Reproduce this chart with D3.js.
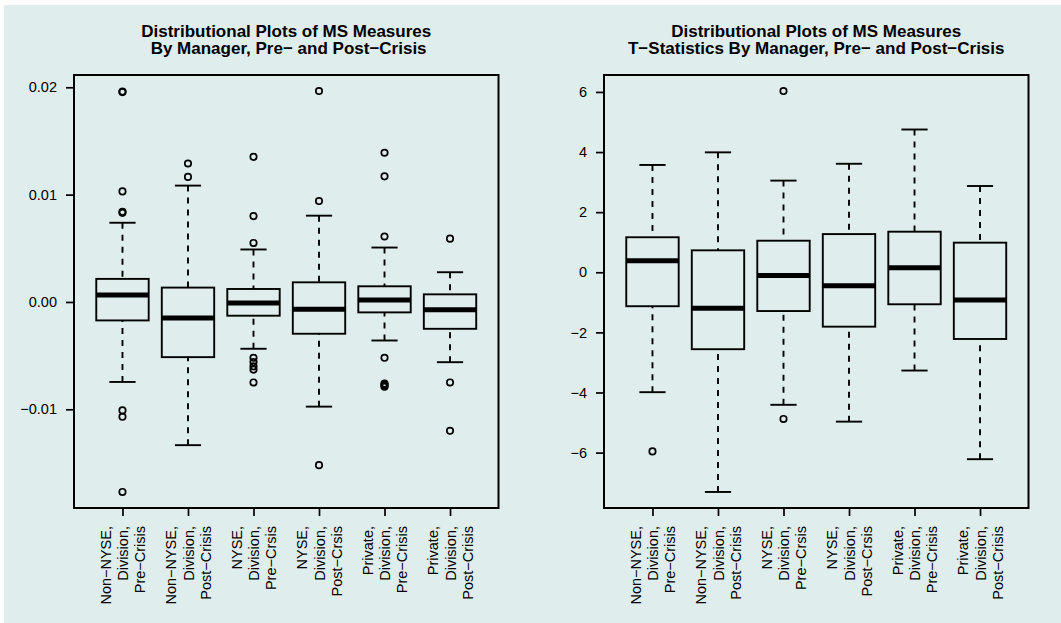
<!DOCTYPE html>
<html>
<head>
<meta charset="utf-8">
<script src="https://cdn.jsdelivr.net/npm/d3@7"></script>
<style>
  body { margin: 0; background: #fff; }
  svg { display: block; }
  text { font-family: "Liberation Sans", Arial, Helvetica, sans-serif; fill: #000; }
</style>
</head>
<body>
<svg id="chart" width="1061" height="623"></svg>
<script>
// box labels (same for both panels)
const categories = [
  ["Non\u2212NYSE,", "Division,", "Pre\u2212Crisis"],
  ["Non\u2212NYSE,", "Division,", "Post\u2212Crisis"],
  ["NYSE,", "Division,", "Pre\u2212Crsis"],
  ["NYSE,", "Division,", "Post\u2212Crsis"],
  ["Private,", "Division,", "Pre\u2212Crisis"],
  ["Private,", "Division,", "Post\u2212Crisis"]
];

// left panel: MS measures
const msLow  = [-0.00745, -0.01334, -0.00436, -0.00975, -0.00359, -0.00561];
const msQ1   = [-0.00172, -0.00514, -0.00128, -0.00296, -0.00097, -0.00250];
const msMed  = [ 0.00065, -0.00150, -0.00010, -0.00069,  0.00019, -0.00072];
const msQ3   = [ 0.00215,  0.00134,  0.00121,  0.00183,  0.00146,  0.00071];
const msHigh = [ 0.00738,  0.01084,  0.00489,  0.00804,  0.00507,  0.00277];
const msOut  = [
  [0.0196, 0.01955, 0.0103, 0.0084, 0.0083, -0.0101, -0.0107, -0.0177],
  [0.0129, 0.01165],
  [0.01352, 0.0080, 0.0055, -0.0052, -0.0056, -0.0060, -0.0063, -0.0075],
  [0.01965, 0.0094, -0.0152],
  [0.0139, 0.0117, 0.0061, -0.0052, -0.0076, -0.0077, -0.0078, -0.0079],
  [0.0059, -0.0075, -0.0120]
];
const msTicks = [-0.01, 0, 0.01, 0.02];
const msTitle = ["Distributional Plots of MS Measures", " By Manager, Pre\u2212 and Post\u2212Crisis"];

// right panel: t-statistics
const tLow  = [-3.99, -7.31, -4.41, -4.97, -3.27, -6.22];
const tQ1   = [-1.13, -2.56, -1.29, -1.81, -1.065, -2.22];
const tMed  = [ 0.386, -1.20, -0.11, -0.45, 0.153, -0.92];
const tQ3   = [ 1.165, 0.73, 1.05, 1.27, 1.35, 0.985];
const tHigh = [ 3.57, 3.99, 3.05, 3.61, 4.75, 2.87];
const tOut  = [[-5.96], [], [6.03, -4.88], [], [], []];
const tTicks = [-6, -4, -2, 0, 2, 4, 6];
const tTitle = ["Distributional Plots of MS Measures", "T\u2212Statistics By Manager, Pre\u2212 and Post\u2212Crisis"];

const W = 1061, H = 623;
const svg = d3.select("#chart");

svg.append("rect")
  .attr("x", 4).attr("y", 5)
  .attr("width", W - 4).attr("height", H - 5)
  .attr("fill", "#dfedec");

const minus = s => s.replace("-", "\u2212");

function drawPanel(ox, title, low, q1, med, q3, high, outs, ticks, fmt) {
  const left = ox + 74, right = ox + 498.5, top = 75, bottom = 508;
  const g = svg.append("g");

  const x = d3.scaleLinear().domain([0.26, 6.74]).range([left, right]);
  const [mn, mx] = d3.extent(low.concat(high, outs.flat()));
  const pad = (mx - mn) * 0.04;
  const y = d3.scaleLinear().domain([mn - pad, mx + pad]).range([bottom, top]);

  // title
  const cx = (left + right) / 2;
  title.forEach((line, i) => {
    g.append("text")
      .attr("x", cx).attr("y", 36.5 + i * 17.3)
      .attr("text-anchor", "middle")
      .style("white-space", "pre")
      .attr("font-size", 17).attr("font-weight", "bold")
      .text(line);
  });

  // y axis
  const ya = g.append("g")
    .attr("transform", `translate(${left},0)`)
    .call(d3.axisLeft(y).tickValues(ticks).tickSize(8).tickPadding(9)
      .tickFormat(d => minus(fmt(d))));
  ya.select(".domain").remove();
  ya.selectAll("line").attr("stroke", "#000").attr("stroke-width", 1.7);
  ya.selectAll("text").attr("font-size", 14.5).attr("font-family", null);

  // x axis
  const xa = g.append("g")
    .attr("transform", `translate(0,${bottom})`)
    .call(d3.axisBottom(x).tickValues(d3.range(1, categories.length + 1))
      .tickSize(8).tickFormat(""));
  xa.select(".domain").remove();
  xa.selectAll("line").attr("stroke", "#000").attr("stroke-width", 1.7);
  xa.selectAll(".tick").append("text")
    .attr("transform", "translate(0,18) rotate(-90)")
    .attr("text-anchor", "end")
    .attr("font-size", 14.5)
    .attr("font-family", null)
    .selectAll("tspan")
    .data(d => categories[d - 1])
    .join("tspan")
    .attr("x", 0)
    .attr("dy", (d, i) => i === 0 ? "-0.85em" : "1.2em")
    .text(d => d);

  const bw = x(1.4) - x(0.6);
  const cw = x(1.2) - x(0.8);
  const idx = d3.range(categories.length);

  // whiskers, drawn from whisker end to box edge
  const wh = g.append("g").attr("stroke", "#000").attr("stroke-width", 1.9);
  idx.forEach(i => {
    const c = x(i + 1);
    [[high[i], q3[i]], [low[i], q1[i]]].forEach(([a, b]) => {
      wh.append("line")
        .attr("x1", c).attr("x2", c)
        .attr("y1", y(a)).attr("y2", y(b))
        .attr("stroke-dasharray", "6,6");
      wh.append("line")
        .attr("x1", c - cw / 2).attr("x2", c + cw / 2)
        .attr("y1", y(a)).attr("y2", y(a));
    });
  });

  // boxes
  g.append("g").selectAll("rect")
    .data(idx)
    .join("rect")
    .attr("x", i => x(i + 1) - bw / 2)
    .attr("width", bw)
    .attr("y", i => y(q3[i]))
    .attr("height", i => y(q1[i]) - y(q3[i]))
    .attr("fill", "none")
    .attr("stroke", "#000")
    .attr("stroke-width", 1.9);

  // medians
  g.append("g").selectAll("line")
    .data(idx)
    .join("line")
    .attr("x1", i => x(i + 1) - bw / 2)
    .attr("x2", i => x(i + 1) + bw / 2)
    .attr("y1", i => y(med[i]))
    .attr("y2", i => y(med[i]))
    .attr("stroke", "#000")
    .attr("stroke-width", 5);

  // outliers
  const pts = outs.flatMap((vals, i) => vals.map(v => ({ i, v })));
  g.append("g").selectAll("circle")
    .data(pts)
    .join("circle")
    .attr("cx", d => x(d.i + 1))
    .attr("cy", d => y(d.v))
    .attr("r", 3.2)
    .attr("fill", "none")
    .attr("stroke", "#000")
    .attr("stroke-width", 1.7);

  // frame
  g.append("rect")
    .attr("x", left).attr("y", top)
    .attr("width", right - left).attr("height", bottom - top)
    .attr("fill", "none")
    .attr("stroke", "#000")
    .attr("stroke-width", 2);
}

drawPanel(0, msTitle, msLow, msQ1, msMed, msQ3, msHigh, msOut, msTicks, d3.format(".2f"));
drawPanel(530, tTitle, tLow, tQ1, tMed, tQ3, tHigh, tOut, tTicks, d3.format("d"));
</script>
</body>
</html>
